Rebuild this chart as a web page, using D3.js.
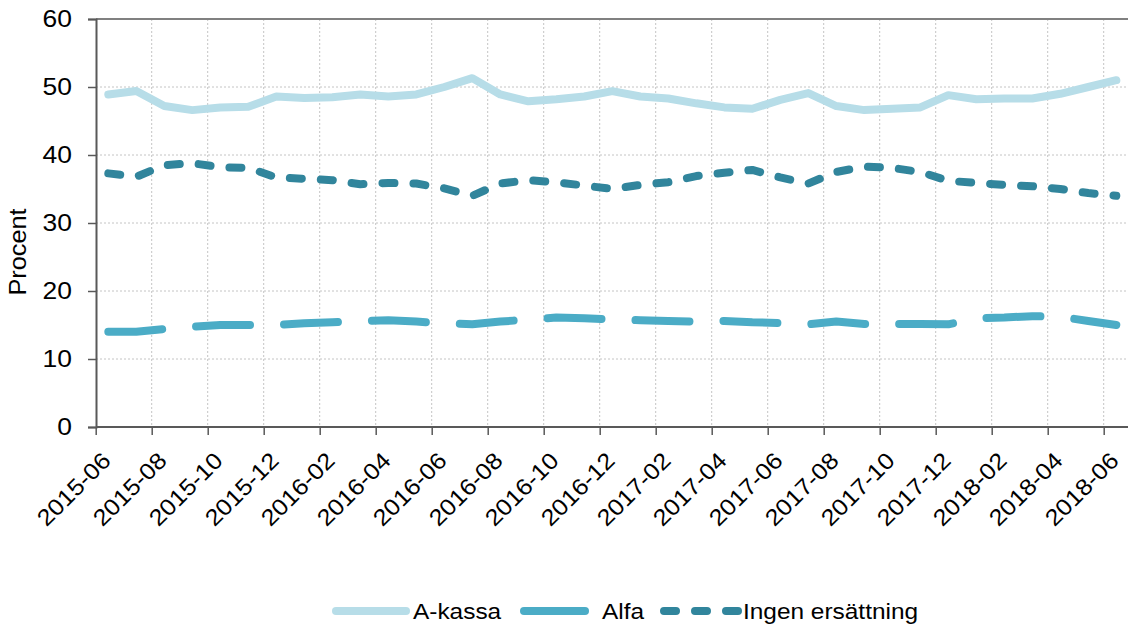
<!DOCTYPE html>
<html><head><meta charset="utf-8">
<script src="https://cdn.jsdelivr.net/npm/d3@7"></script>
<style>
html,body{margin:0;padding:0;background:#fff;}
svg{display:block;font-family:"Liberation Sans",Arial,sans-serif;}
</style></head>
<body><svg id="c" width="1128" height="632"></svg>
<script>
const months = ["2015-06","2015-07","2015-08","2015-09","2015-10","2015-11","2015-12",
"2016-01","2016-02","2016-03","2016-04","2016-05","2016-06","2016-07","2016-08","2016-09","2016-10","2016-11","2016-12",
"2017-01","2017-02","2017-03","2017-04","2017-05","2017-06","2017-07","2017-08","2017-09","2017-10","2017-11","2017-12",
"2018-01","2018-02","2018-03","2018-04","2018-05","2018-06"];
const aKassa = [48.9,49.4,47.2,46.6,47.0,47.1,48.6,48.4,48.5,48.9,48.6,48.9,50.0,51.3,48.9,47.9,48.2,48.6,49.4,
48.6,48.3,47.6,47.0,46.8,48.1,49.1,47.2,46.6,46.8,47.0,48.8,48.2,48.3,48.3,49.0,50.0,51.0];
const alfa = [14.0,14.0,14.4,14.75,15.0,15.0,15.0,15.25,15.4,15.6,15.7,15.5,15.25,15.1,15.5,15.8,16.1,16.0,15.8,
15.7,15.6,15.5,15.6,15.4,15.3,15.1,15.5,15.15,15.15,15.15,15.1,16.0,16.1,16.3,16.2,15.6,15.0];
const ingen = [37.3,36.8,38.5,38.8,38.2,38.1,36.7,36.5,36.3,35.7,35.9,35.8,35.1,34.0,35.8,36.3,36.0,35.5,35.0,
35.6,36.0,36.9,37.4,37.8,36.7,35.8,37.5,38.3,38.1,37.5,36.2,35.9,35.6,35.4,35.0,34.4,34.0];
const tickLabels = ["2015-06","2015-08","2015-10","2015-12","2016-02","2016-04","2016-06","2016-08","2016-10","2016-12",
"2017-02","2017-04","2017-06","2017-08","2017-10","2017-12","2018-02","2018-04","2018-06"];
const yTicks = [0,10,20,30,40,50,60];
const seriesNames = ["A-kassa","Alfa","Ingen ersättning"];
const colors = ["#b7dde8","#4bacc6","#31859c"];
const dashes = [null,"54,34","12,19"];

const svg = d3.select("#c");
const L=96, R=1128, T=19, B=427;
const x = d3.scaleLinear().domain([0,36]).range([95.7,1103.7]);
const y = d3.scaleLinear().domain([0,60]).range([B,T]);
const off = 0.45;
const FF = "Liberation Sans, Arial, sans-serif";
const FS = 23, SX = 1.1, SW = 8;

// gridlines
const g = svg.append("g");
g.selectAll("line.hg").data(yTicks.filter(d=>d>0&&d<60)).join("line")
 .attr("x1",L).attr("x2",R).attr("y1",d=>y(d)).attr("y2",d=>y(d))
 .attr("stroke","#c4c4c4").attr("stroke-width",1).attr("stroke-dasharray","2,2");
g.selectAll("line.vg").data(tickLabels.map((d,i)=>2*i).filter(d=>d>0)).join("line")
 .attr("x1",d=>x(d)).attr("x2",d=>x(d)).attr("y1",T).attr("y2",B)
 .attr("stroke","#c4c4c4").attr("stroke-width",1).attr("stroke-dasharray","2,2");

// top border
svg.append("line").attr("x1",L).attr("x2",R).attr("y1",T).attr("y2",T).attr("stroke","#808080").attr("stroke-width",2);

// y axis
const yAxis = svg.append("g").attr("transform",`translate(${L},0)`)
 .call(d3.axisLeft(y).tickValues(yTicks).tickSize(8).tickPadding(16));
yAxis.select(".domain").attr("stroke","#595959").attr("stroke-width",2);
yAxis.selectAll(".tick line").attr("stroke","#595959").attr("stroke-width",1.5);
yAxis.selectAll("text").attr("font-size",FS).attr("fill","#000").attr("font-family",FF)
 .attr("x",-24/1.15).attr("transform",`scale(1.15,1)`);

// x axis
const xAxis = svg.append("g").attr("transform",`translate(0,${B})`)
 .call(d3.axisBottom(x).tickValues(tickLabels.map((d,i)=>2*i)).tickFormat((d)=>tickLabels[d/2]).tickSize(8).tickSizeOuter(0));
xAxis.select(".domain").attr("stroke","#595959").attr("stroke-width",2).attr("d",`M${L},0H${R}`);
xAxis.selectAll(".tick line").attr("stroke","#595959").attr("stroke-width",1.5);
xAxis.selectAll("text").attr("font-size",FS).attr("fill","#000").attr("font-family",FF)
 .attr("text-anchor","end").attr("dy",0).attr("y",0)
 .attr("transform",`translate(16,35) rotate(-45) scale(${SX},1)`);

// y title
svg.append("text").attr("transform",`translate(26,252) rotate(-90) scale(${SX},1)`).attr("text-anchor","middle")
 .attr("font-size",FS).attr("font-family",FF).text("Procent");

// lines
const data = [aKassa, alfa, ingen];
const line = d3.line().x((d,i)=>x(i+off)).y(d=>y(d));
data.forEach((s,k)=>{
  const p = svg.append("path").datum(s).attr("d",line).attr("fill","none")
   .attr("stroke",colors[k]).attr("stroke-width",SW).attr("stroke-linecap","round").attr("stroke-linejoin","round");
  if(dashes[k]) p.attr("stroke-dasharray",dashes[k]);
});

// legend
const leg = [{x1:336,x2:406,tx:413},{x1:524,x2:585,tx:602},{x1:664,x2:739,tx:743}];
const ly = 611;
leg.forEach((l,k)=>{
  const ln = svg.append("line").attr("x1",l.x1).attr("x2",l.x2).attr("y1",ly).attr("y2",ly)
   .attr("stroke",colors[k]).attr("stroke-width",SW).attr("stroke-linecap","round");
  if(k===2) ln.attr("stroke-dasharray","12,19");
  svg.append("text").attr("transform",`translate(${l.tx},${ly}) scale(${SX},1)`).attr("dy","0.35em")
   .attr("font-size",22.2).attr("font-family",FF).text(seriesNames[k]);
});
</script></body></html>
